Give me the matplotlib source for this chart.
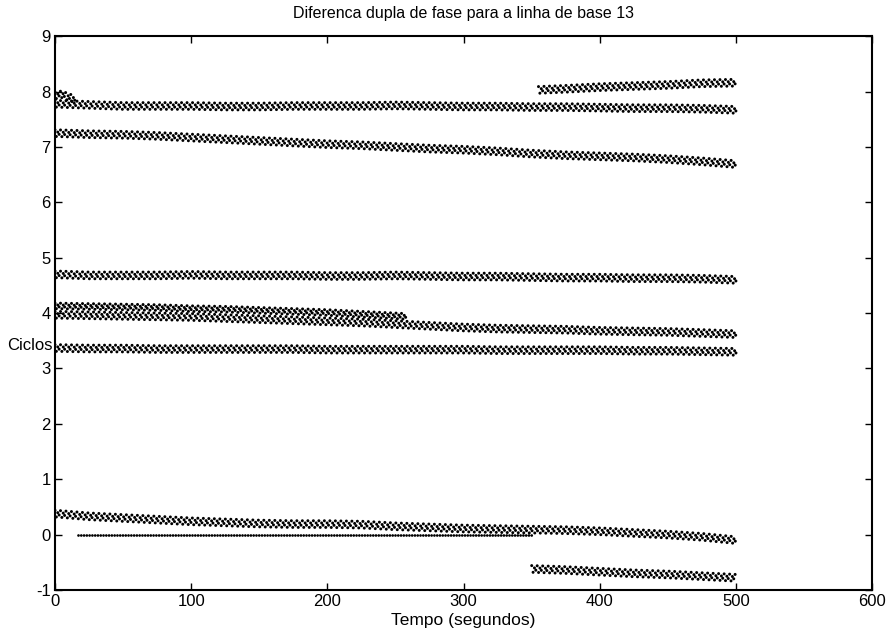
import matplotlib
matplotlib.use('Agg')
import matplotlib.pyplot as plt

plt.rcParams['font.family'] = ['Liberation Sans', 'DejaVu Sans']
plt.rcParams['axes.unicode_minus'] = False

# tempos de leitura (s) para as faixas longas
t_full = [0, 25, 50, 75, 100, 125, 150, 175, 200, 225, 250,
          275, 300, 325, 350, 375, 400, 425, 450, 475, 500]

# niveis (ciclos)
band_a = [7.78, 7.76, 7.74, 7.74, 7.74, 7.73, 7.73, 7.74, 7.74, 7.74, 7.75,
          7.74, 7.73, 7.73, 7.72, 7.72, 7.71, 7.70, 7.70, 7.69, 7.67]
band_b = [7.25, 7.23, 7.22, 7.20, 7.17, 7.14, 7.11, 7.08, 7.05, 7.03, 7.00,
          6.97, 6.95, 6.92, 6.88, 6.85, 6.83, 6.81, 6.78, 6.74, 6.69]
band_c = [4.70, 4.68, 4.68, 4.68, 4.69, 4.68, 4.68, 4.68, 4.67, 4.67, 4.68,
          4.67, 4.66, 4.66, 4.65, 4.64, 4.64, 4.63, 4.63, 4.62, 4.60]
band_d = [3.97, 3.96, 3.95, 3.94, 3.93, 3.91, 3.89, 3.87, 3.85, 3.83, 3.80,
          3.77, 3.74, 3.72, 3.71, 3.70, 3.68, 3.67, 3.66, 3.64, 3.62]
band_e = [3.37, 3.36, 3.36, 3.35, 3.35, 3.35, 3.35, 3.35, 3.34, 3.34, 3.34,
          3.34, 3.34, 3.33, 3.33, 3.33, 3.33, 3.32, 3.32, 3.31, 3.30]
band_f = [0.38, 0.33, 0.30, 0.27, 0.24, 0.22, 0.20, 0.19, 0.19, 0.18, 0.15,
          0.13, 0.11, 0.10, 0.09, 0.08, 0.06, 0.03, 0.00, -0.04, -0.10]

# faixas curtas
t_early = [0, 5, 10, 15]
band_early = [7.93, 7.95, 7.90, 7.86]

t_d_up = [0, 25, 50, 75, 100, 125, 150, 175, 200, 225, 250, 258]
band_d_up = [4.13, 4.12, 4.11, 4.10, 4.08, 4.07, 4.05, 4.03, 4.01, 3.98, 3.95, 3.94]

t_late = [355, 375, 400, 425, 450, 475, 500]
band_top_late = [8.03, 8.05, 8.08, 8.10, 8.12, 8.15, 8.16]
t_neg = [350, 375, 400, 425, 450, 475, 500]
band_neg = [-0.62, -0.64, -0.67, -0.70, -0.72, -0.75, -0.78]

t_zero = [17, 350]
band_zero = [0.0, 0.0]

# meia-largura aproximada de cada faixa (ciclos)
bands = [
    (t_full, band_a, 0.06),
    (t_full, band_b, 0.06),
    (t_full, band_c, 0.06),
    (t_full, band_d, 0.06),
    (t_full, band_e, 0.06),
    (t_full, band_f, 0.06),
    (t_early, band_early, 0.06),
    (t_d_up, band_d_up, 0.05),
    (t_late, band_top_late, 0.06),
    (t_neg, band_neg, 0.06),
]

fig = plt.figure(figsize=(8.9, 6.35), dpi=100)
ax = fig.add_axes([0.0618, 0.0709, 0.9182, 0.8721])


def dotted(ax, t, y, off=0.0, phase=0.0, lw=2.2, gap=1.8):
    yy = [v + off for v in y]
    ax.plot(t, yy, color='k', lw=lw, linestyle=(phase, (0.001, gap)),
            dash_capstyle='round', zorder=3)


for t, y, s in bands:
    dotted(ax, t, y, s, 0.0)
    dotted(ax, t, y, s / 3, 0.9)
    dotted(ax, t, y, -s / 3, 0.45)
    dotted(ax, t, y, -s, 1.35)

# linha de referencia em zero (pontos pequenos e densos)
ax.plot(t_zero, band_zero, color='k', lw=2.0, linestyle=(0, (0.001, 1.0)),
        dash_capstyle='round', zorder=3)

ax.set_xlim(0, 600)
ax.set_ylim(-1, 9)
ax.set_xticks(range(0, 601, 100))
ax.set_yticks(range(-1, 10))
ax.tick_params(direction='in', top=True, right=True, length=5, width=1,
               labelsize=12, pad=3)
for sp in ax.spines.values():
    sp.set_linewidth(1.5)

ax.set_title('Diferenca dupla de fase para a linha de base 13',
             fontsize=11.5, pad=13)
ax.set_xlabel('Tempo (segundos)', fontsize=12.5, labelpad=3)
ax.text(-0.058, 0.442, 'Ciclos', transform=ax.transAxes, fontsize=12,
        ha='left', va='center')

fig.savefig('out.png', dpi=100, facecolor='white')
